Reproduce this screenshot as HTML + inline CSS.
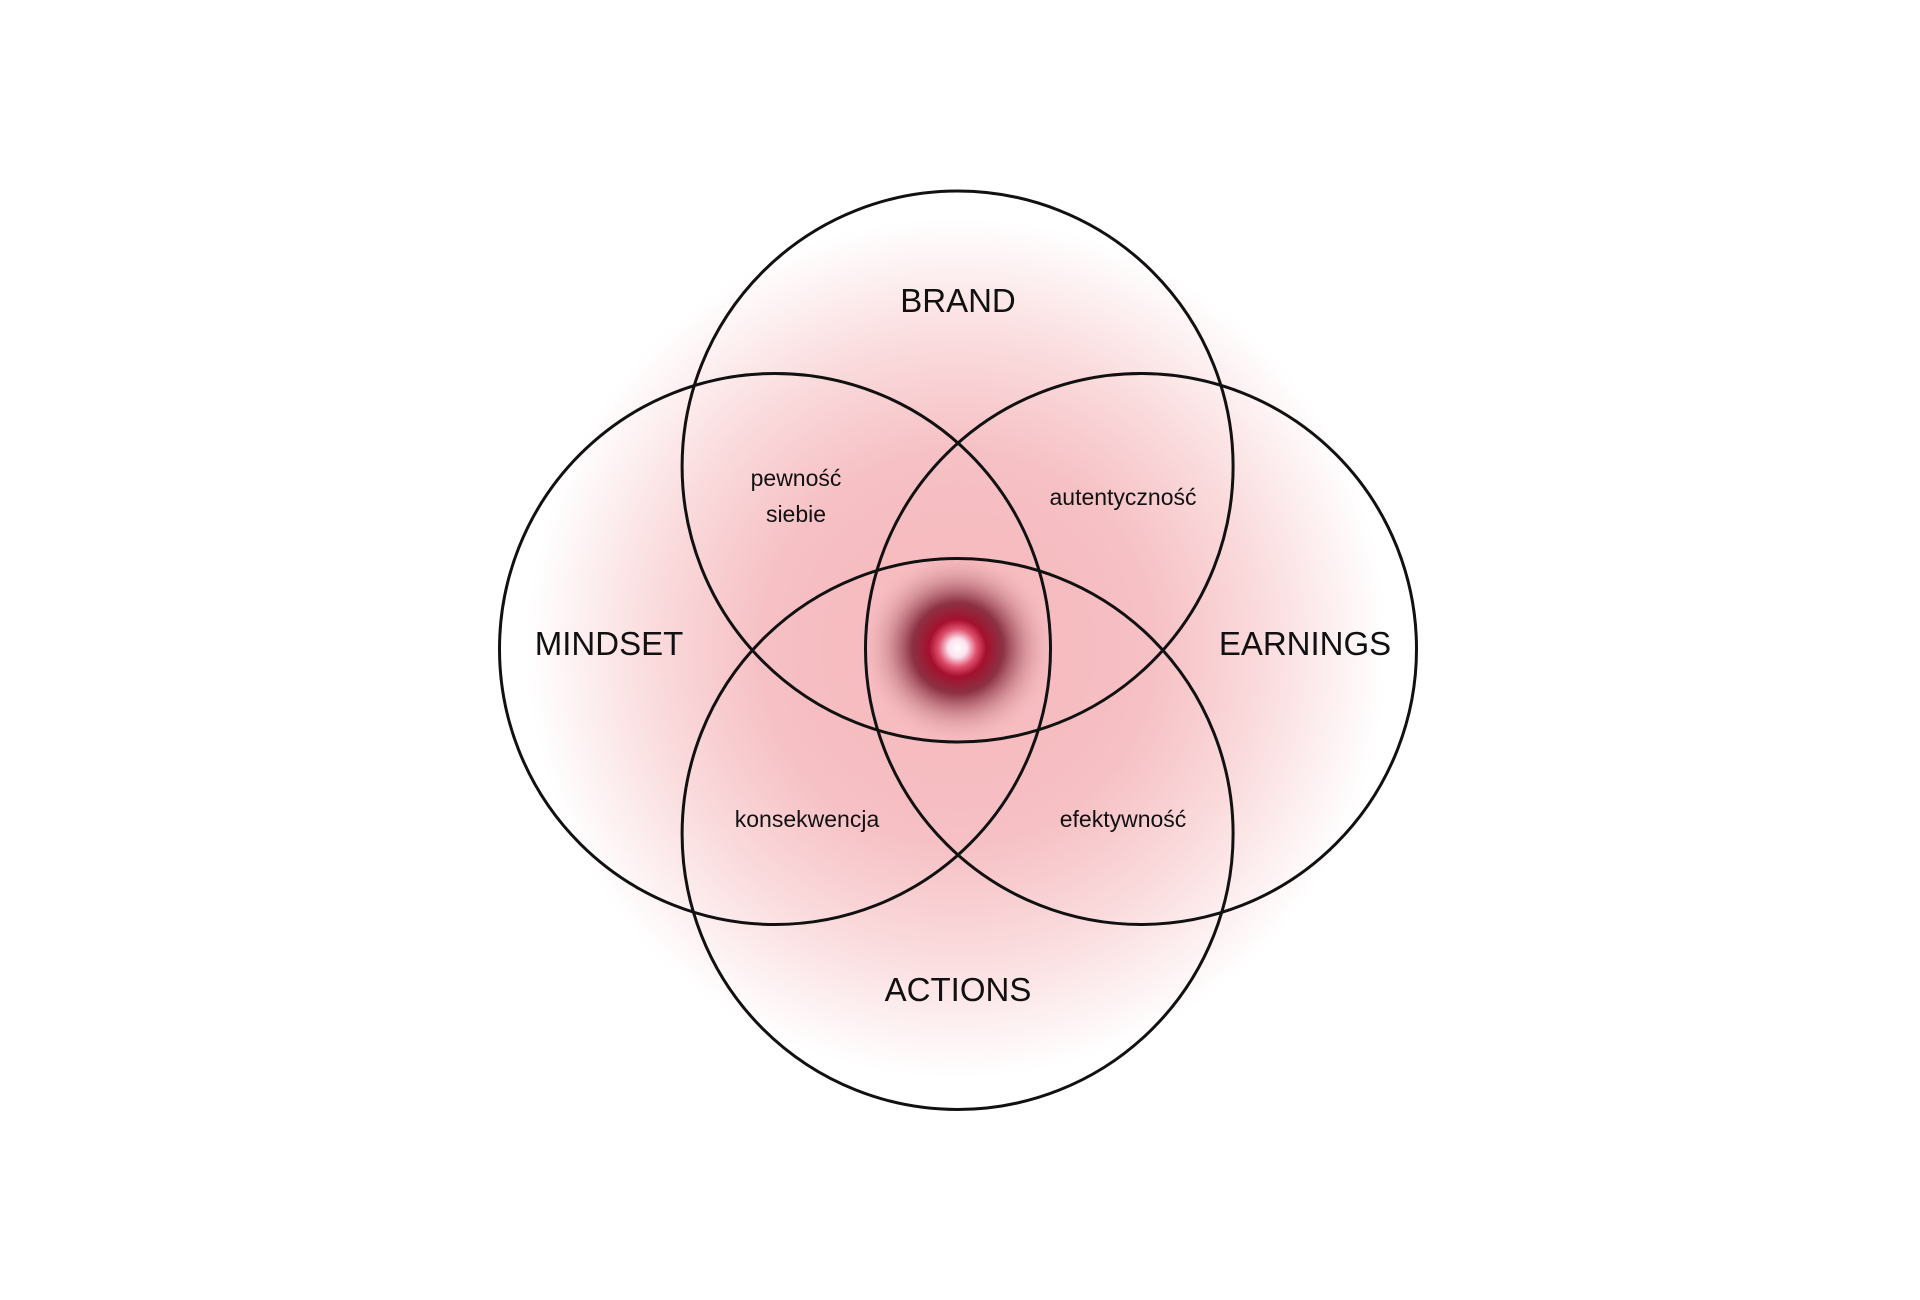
<!DOCTYPE html>
<html><head><meta charset="utf-8"><style>
html,body{margin:0;padding:0;background:#fff;}
svg{display:block}
text{font-family:"Liberation Sans",sans-serif;fill:#111;text-anchor:middle;}
</style></head><body>
<svg width="1920" height="1300" viewBox="0 0 1920 1300">
<defs>
<radialGradient id="bg" cx="957.6" cy="648" r="430" gradientUnits="userSpaceOnUse">
<stop offset="0" stop-color="#f5b7bb"/>
<stop offset="0.45" stop-color="#f6c0c4"/>
<stop offset="0.7" stop-color="#fadadc"/>
<stop offset="0.88" stop-color="#fdf0f1"/>
<stop offset="1" stop-color="#ffffff"/>
</radialGradient>
<radialGradient id="core" cx="957.6" cy="648" r="95" gradientUnits="userSpaceOnUse">
<stop offset="0" stop-color="#ffffff"/>
<stop offset="0.1" stop-color="#fbe0ec"/>
<stop offset="0.2" stop-color="#e0506e"/>
<stop offset="0.3" stop-color="#a5102e"/>
<stop offset="0.48" stop-color="#7a1a2e" stop-opacity="0.85"/>
<stop offset="0.72" stop-color="#a0505c" stop-opacity="0.35"/>
<stop offset="1" stop-color="#f5b7bb" stop-opacity="0"/>
</radialGradient>
</defs>
<rect width="1920" height="1300" fill="#fff"/>
<circle cx="957.6" cy="648" r="430" fill="url(#bg)"/>
<circle cx="957.6" cy="648" r="95" fill="url(#core)"/>
<g fill="none" stroke="#111" stroke-width="3">
<circle cx="957.6" cy="466.5" r="275.5"/>
<circle cx="775" cy="649" r="275.5"/>
<circle cx="1141" cy="649" r="275.5"/>
<circle cx="957.6" cy="834" r="275.5"/>
</g>
<g font-size="33">
<text x="958" y="312">BRAND</text>
<text x="609" y="655">MINDSET</text>
<text x="1305" y="655">EARNINGS</text>
<text x="958" y="1001">ACTIONS</text>
</g>
<g font-size="23" style="fill:#222">
<text x="796" y="486">pewność</text>
<text x="796" y="522">siebie</text>
<text x="1123" y="505">autentyczność</text>
<text x="807" y="827">konsekwencja</text>
<text x="1123" y="827">efektywność</text>
</g>
</svg>
</body></html>
